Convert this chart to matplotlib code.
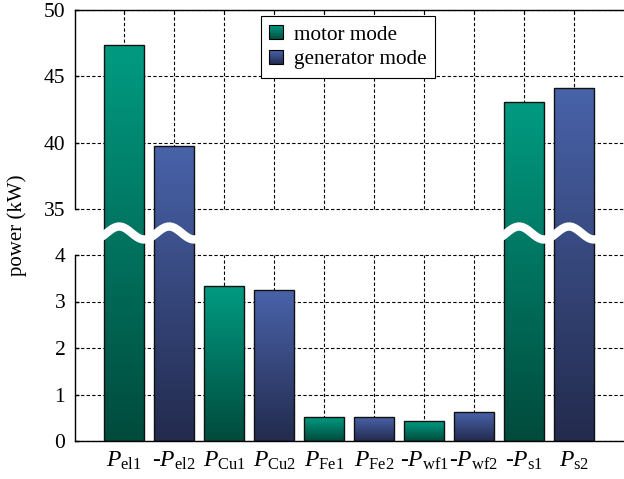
import numpy as np
import matplotlib
matplotlib.use('Agg')
import matplotlib.pyplot as plt
from matplotlib.patches import Rectangle
from matplotlib.legend_handler import HandlerBase
from matplotlib.colors import to_rgb

# ---------------- data ----------------
categories = [r'$P_{\rm el1}$', r'-$P_{\rm el2}$', r'$P_{\rm Cu1}$', r'$P_{\rm Cu2}$',
              r'$P_{\rm Fe1}$', r'$P_{\rm Fe2}$', r'-$P_{\rm wf1}$', r'-$P_{\rm wf2}$',
              r'-$P_{\rm s1}$', r'$P_{\rm s2}$']
values = [47.36, 39.75, 3.34, 3.25, 0.52, 0.52, 0.43, 0.62, 43.09, 44.14]
modes = [0, 1, 0, 1, 0, 1, 0, 1, 0, 1]          # 0 = motor, 1 = generator
series_names = ['motor mode', 'generator mode']
yticks = [0, 1, 2, 3, 4, 35, 40, 45, 50]
lower_range = (0, 4)
upper_range = (35, 50)

# ---------------- style ----------------
plt.rcParams['font.family'] = ['Liberation Serif', 'DejaVu Serif']
plt.rcParams['mathtext.fontset'] = 'custom'
plt.rcParams['mathtext.rm'] = 'Liberation Serif'
plt.rcParams['mathtext.it'] = 'Liberation Serif:italic'
plt.rcParams['mathtext.bf'] = 'Liberation Serif:bold'

top_cols = [np.array(to_rgb('#009A81')), np.array(to_rgb('#4862A9'))]
bot_cols = [np.array(to_rgb('#004A3B')), np.array(to_rgb('#222A4C'))]

# broken axis as a piecewise-linear scale (lower 0-4, gap, upper 35-50)
BV = [0.0, 4.0, 35.0, 50.0]
BU = [0.0, 186.0, 232.0, 431.0]


def fwd(v):
    v = np.asarray(v, dtype=float)
    return np.where(v < BV[1], v * (BU[1] / BV[1]),
                    np.where(v < BV[2], BU[1] + (v - BV[1]) * (BU[2] - BU[1]) / (BV[2] - BV[1]),
                             BU[2] + (v - BV[2]) * (BU[3] - BU[2]) / (BV[3] - BV[2])))


def inv(u):
    u = np.asarray(u, dtype=float)
    return np.where(u < BU[1], u * (BV[1] / BU[1]),
                    np.where(u < BU[2], BV[1] + (u - BU[1]) * (BV[2] - BV[1]) / (BU[2] - BU[1]),
                             BV[2] + (u - BU[2]) * (BV[3] - BV[2]) / (BU[3] - BU[2])))


fig = plt.figure(figsize=(6.24, 4.79), dpi=100)
ax = fig.add_axes([75 / 624, 38 / 479, 549 / 624, 431 / 479])
ax.set_yscale('function', functions=(fwd, inv))
ax.set_ylim(0, 50)
ax.set_xlim(-0.984, 10.0)

x = np.arange(len(values))
bw = 0.8

# gradient bars (stacked from tallest/lightest to shortest/darkest)
N = 120
for xi, h, m in zip(x, values, modes):
    utop = float(fwd(h))
    for k in range(N):
        frac = 1 - k / N
        v = float(inv(utop * frac))
        c = bot_cols[m] + (top_cols[m] - bot_cols[m]) * frac
        ax.bar(xi, v, width=bw, color=c, linewidth=0, zorder=2)
ax.bar(x, values, width=bw, fill=False, edgecolor='#111111', linewidth=1.0, zorder=3)

# wavy break marks over the bars that cross the gap
xtr = ax.get_xaxis_transform()
for xi, h in zip(x, values):
    if h > upper_range[0]:
        xs = np.linspace(xi - 0.48, xi + 0.48, 100)
        ys = 0.4826 + 0.015 * np.cos(2 * np.pi * (xs - (xi - 0.1)))
        ax.plot(xs, ys, color='white', lw=6.0, transform=xtr, zorder=4, solid_capstyle='butt')

# grid
dash = (0, (3, 2))
ax.set_yticks(yticks)
ax.set_yticklabels([str(t) for t in yticks])
ax.yaxis.grid(True, linestyle=dash, color='black', lw=0.8)
ax.set_axisbelow(True)
for rng in (lower_range, upper_range):
    ax.vlines(x, rng[0], rng[1], colors='black', linestyles=dash, lw=0.8, zorder=1)

# spines
ax.spines['right'].set_visible(False)
ax.spines['left'].set_visible(False)
ytr = ax.get_yaxis_transform()
for rng in (lower_range, upper_range):
    ax.plot([0, 0], list(rng), color='black', lw=1.0, transform=ytr, clip_on=False, zorder=5)
ax.spines['top'].set_linewidth(1.0)
ax.spines['bottom'].set_linewidth(1.0)

ax.tick_params(axis='y', direction='in', length=3, width=1, pad=7, labelsize=15.5, right=False)
ax.set_xticks(x)
ax.set_xticklabels(categories)
ax.tick_params(axis='x', direction='in', length=3, width=0.8, top=True, bottom=False, pad=6, labelsize=17)

ax.set_ylabel('power (kW)', fontsize=15)
ax.yaxis.set_label_coords(-0.087, 0.5)


# legend with gradient patches
class GradHandler(HandlerBase):
    def __init__(self, m):
        super().__init__()
        self.m = m

    def create_artists(self, legend, orig_handle, xdescent, ydescent, width, height, fontsize, trans):
        arts = []
        n = 20
        for k in range(n):
            frac = 1 - k / n
            c = bot_cols[self.m] + (top_cols[self.m] - bot_cols[self.m]) * frac
            arts.append(Rectangle((-xdescent, -ydescent), width, height * frac, facecolor=c,
                                  edgecolor='none', transform=trans))
        arts.append(Rectangle((-xdescent, -ydescent), width, height, fill=False,
                              edgecolor='black', lw=0.8, transform=trans))
        return arts


h0 = Rectangle((0, 0), 1, 1)
h1 = Rectangle((0, 0), 1, 1)
leg = ax.legend([h0, h1], series_names, handler_map={h0: GradHandler(0), h1: GradHandler(1)},
                loc='upper left', bbox_to_anchor=(0.338, 0.986), borderaxespad=0,
                fontsize=15.3, fancybox=False, framealpha=1, edgecolor='black',
                handlelength=0.65, handleheight=0.65, handletextpad=0.5, borderpad=0.42,
                labelspacing=0.25)
leg.get_frame().set_linewidth(0.8)
leg.set_zorder(10)

fig.savefig('out.png', dpi=100)
